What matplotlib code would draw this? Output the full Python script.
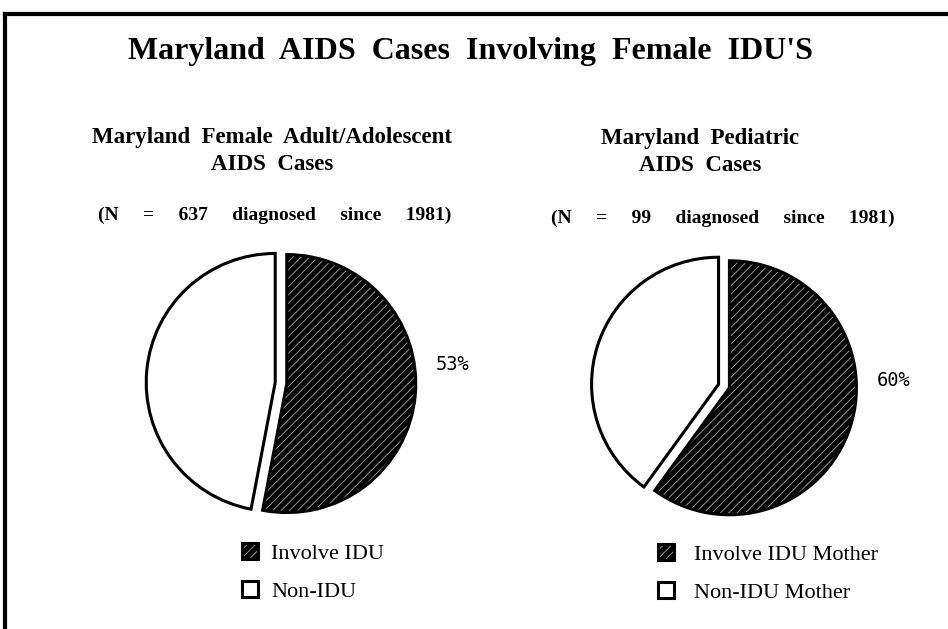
import matplotlib
matplotlib.use("Agg")
from matplotlib import pyplot as plt
from matplotlib import colors as mcolors
from matplotlib.lines import Line2D

# Chart data
title = "Maryland  AIDS  Cases  Involving  Female  IDU'S"
left_title = "Maryland  Female  Adult/Adolescent\nAIDS  Cases"
left_note = "(N     =     637     diagnosed     since     1981)"
left_labels = ["Involve IDU", "Non-IDU"]
left_values = [53, 47]

right_title = "Maryland  Pediatric\nAIDS  Cases"
right_note = "(N     =     99     diagnosed     since     1981)"
right_labels = ["Involve IDU Mother", "Non-IDU Mother"]
right_values = [60, 40]

W, H = 948, 629
plt.rcParams['hatch.linewidth'] = 0.6
fig = plt.figure(figsize=(W / 100, H / 100), dpi=100)
fig.patch.set_facecolor("white")

serif = "Liberation Serif"


# Place an axes of pie-units around a pixel center
def pie_axes(cx, cy, r):
    half = 1.25 * r
    ax = fig.add_axes([(cx - half) / W, (H - cy - half) / H, 2 * half / W, 2 * half / H])
    ax.axis("off")
    return ax


# Draw one exploded pie with hatched dark slice and its legend
def draw_pie(cx, cy, r, values, labels, label_xy, legend_xy, textpad):
    ax = pie_axes(cx, cy, r)
    wedges, _ = ax.pie(values, startangle=90, counterclock=False,
                       colors=["black", "white"], explode=[0.045, 0.045],
                       wedgeprops=dict(edgecolor="black", linewidth=2.2))
    ax.set_xlim(-1.25, 1.25)
    ax.set_ylim(-1.25, 1.25)
    ax.set_aspect("equal")
    wedges[0].set_hatch("////")
    wedges[0]._hatch_color = mcolors.to_rgba("#a8a8a8")
    fig.text(label_xy[0] / W, 1 - label_xy[1] / H, f"{values[0]}%",
             family="DejaVu Sans Mono", fontsize=13.5, ha="center", va="center")
    fig.legend(wedges, labels, loc="upper left",
               bbox_to_anchor=(legend_xy[0] / W, 1 - legend_xy[1] / H),
               frameon=False, handlelength=0.7, handleheight=0.7,
               handletextpad=textpad, labelspacing=0.8,
               prop=dict(family=serif, size=16))


# Titles
fig.text(471 / W, 1 - 51 / H, title, family=serif, weight="bold", fontsize=23,
         ha="center", va="center")
fig.text(272 / W, 1 - 151 / H, left_title, family=serif, weight="bold",
         fontsize=16.5, ha="center", va="center", linespacing=1.4)
fig.text(275 / W, 1 - 215 / H, left_note, family=serif, weight="bold",
         fontsize=14, ha="center", va="center")
fig.text(700 / W, 1 - 152 / H, right_title, family=serif, weight="bold",
         fontsize=16.5, ha="center", va="center", linespacing=1.4)
fig.text(723 / W, 1 - 218 / H, right_note, family=serif, weight="bold",
         fontsize=14, ha="center", va="center")

draw_pie(281, 383, 129, left_values, left_labels, (453, 364), (222, 523), 0.6)
draw_pie(724, 386, 127, right_values, right_labels, (894, 381), (638, 524), 0.9)

# Frame lines at the top and left edges
fig.add_artist(Line2D([5 / W, 1.0], [1 - 14 / H, 1 - 14 / H], color="black",
                      linewidth=3, transform=fig.transFigure))
fig.add_artist(Line2D([5 / W, 5 / W], [0.0, 1 - 14 / H], color="black",
                      linewidth=3, transform=fig.transFigure))

fig.savefig("out.png", dpi=100, facecolor="white")
